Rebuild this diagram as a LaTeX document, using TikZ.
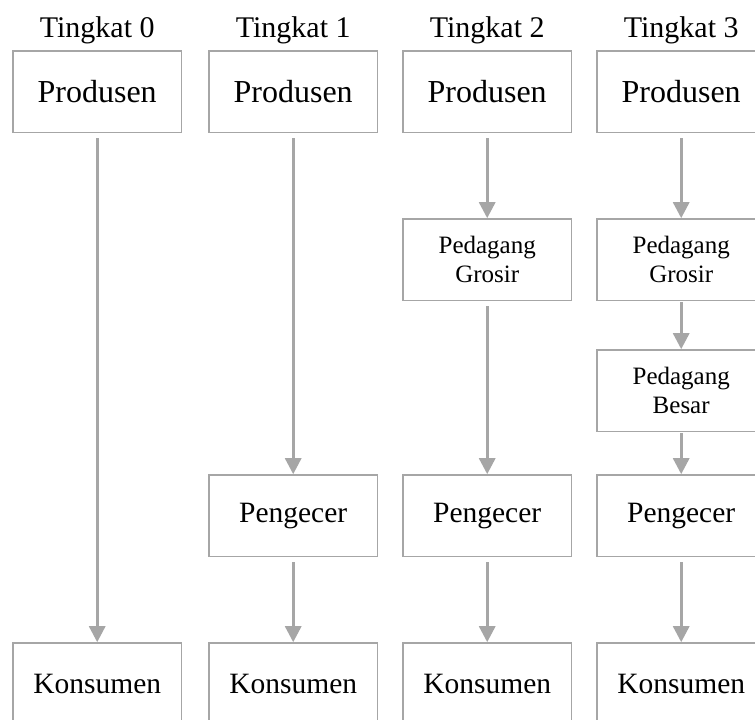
\documentclass[tikz,border=0pt]{standalone}
\usepackage{fontspec}
\setmainfont{Liberation Serif}
\usepackage{tikz}
\usetikzlibrary{arrows.meta}
\newcommand{\boxfont}{\fontsize{29.5}{34}\selectfont}
\newcommand{\produsenfont}{\fontsize{32}{36}\selectfont}
\newcommand{\tingkatfont}{\fontsize{30}{36}\selectfont}
\newcommand{\pedagangfont}{\fontsize{25}{29}\selectfont}
\definecolor{linegray}{HTML}{A6A6A6}

\begin{document}
\begin{tikzpicture}[x=1pt,y=1pt,
 box/.style={draw=linegray,line width=1.5pt,minimum width=168.5pt,
  minimum height=81.5pt,align=center,inner sep=2pt},
 produsen/.style={box,font=\produsenfont},
 pedagang/.style={box,font=\pedagangfont},
 tingkat/.style={font=\tingkatfont,inner sep=0pt,text height=21pt,text depth=7pt},
 flow/.style={draw=linegray,line width=3pt,
  -{Triangle[width=16pt,length=16pt]},shorten <=5pt},
 ampersand replacement=\&]
\useasboundingbox (0,0) rectangle (755,-720);
\matrix[font=\boxfont,inner sep=0pt,column sep=24pt,
 matrix anchor=north west] at (12,-16)
{
  \node[tingkat]{Tingkat 0}; \&[2pt] \node[tingkat]{Tingkat 1}; \&
  \node[tingkat]{Tingkat 2}; \& \node[tingkat]{Tingkat 3};
  \\[6pt]
  \node[produsen] (p0) {Produsen}; \& \node[produsen] (p1) {Produsen}; \&
  \node[produsen] (p2) {Produsen}; \& \node[produsen] (p3) {Produsen};
  \\[85pt]
   \& \&
  \node[pedagang] (g2) {Pedagang\\Grosir}; \& \node[pedagang] (g3) {Pedagang\\Grosir};
  \\[48pt]
   \& \& \& \node[pedagang] (b3) {Pedagang\\Besar};
  \\[42pt]
   \& \node[box] (e1) {Pengecer}; \&
  \node[box] (e2) {Pengecer}; \& \node[box] (e3) {Pengecer};
  \\[85pt]
  \node[box] (k0) {Konsumen}; \& \node[box] (k1) {Konsumen}; \&
  \node[box] (k2) {Konsumen}; \& \node[box] (k3) {Konsumen};
  \\
};
\draw[flow] (p0.south) -- (k0.north);
\draw[flow] (p1.south) -- (e1.north);
\draw[flow] (e1.south) -- (k1.north);
\draw[flow] (p2.south) -- (g2.north);
\draw[flow] (g2.south) -- (e2.north);
\draw[flow] (e2.south) -- (k2.north);
\draw[flow] (p3.south) -- (g3.north);
\draw[flow,shorten <=1pt] (g3.south) -- (b3.north);
\draw[flow,shorten <=1pt] (b3.south) -- (e3.north);
\draw[flow] (e3.south) -- (k3.north);
\end{tikzpicture}
\end{document}
